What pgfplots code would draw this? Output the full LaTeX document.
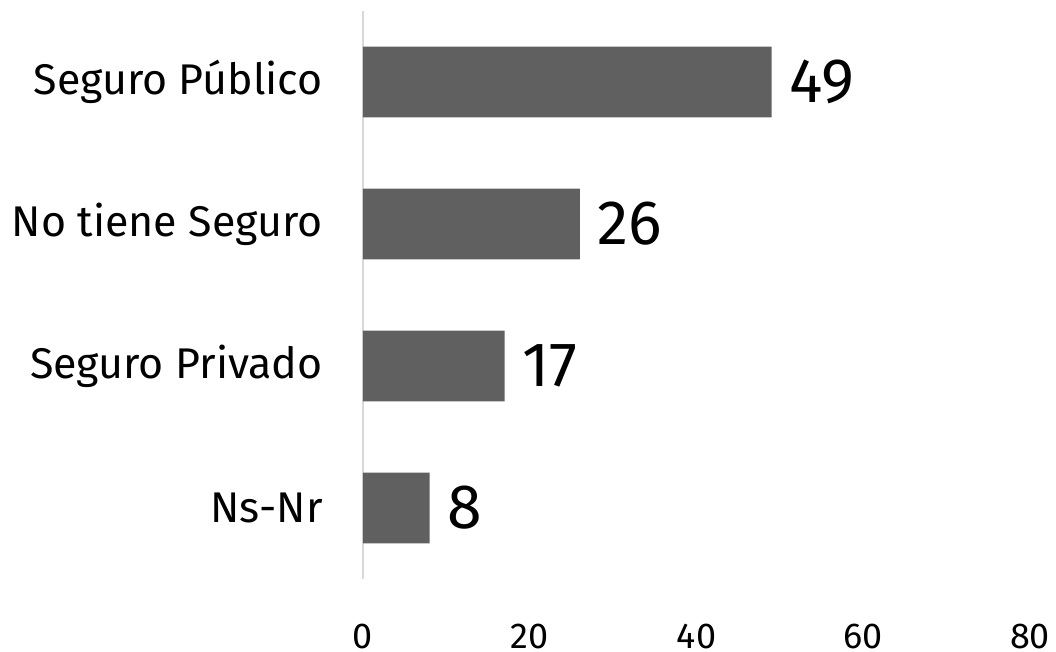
\documentclass[border=0pt]{standalone}
\usepackage{fontspec}
\setmainfont{Fira Sans}
\usepackage{pgfplots}
\pgfplotsset{compat=1.18}
\definecolor{barcol}{RGB}{96,96,96}
\definecolor{axcol}{RGB}{217,217,217}

\begin{document}
\begin{tikzpicture}
\begin{axis}[
    at={(0,0)}, anchor=south west,
    scale only axis,
    width=500.25pt, height=426pt,
    xbar, bar width=53pt,
    xmin=0, xmax=80, ymin=-0.5, ymax=3.5,
    xtick={0,20,40,60,80},
    ytick={0,1,2,3},
    yticklabels={Ns-Nr, Seguro Privado, No tiene Seguro, Seguro Público},
    axis x line*=bottom, axis y line*=left,
    x axis line style={draw=none},
    y axis line style={draw=axcol, line width=1.5pt},
    major tick length=0pt,
    /pgf/number format/assume math mode=true,
    xticklabel style={font=\fontsize{27}{30}\selectfont, inner sep=0pt, anchor=base, yshift=-52pt},
    yticklabel style={font=\fontsize{32.2}{36}\selectfont, inner sep=0pt, anchor=east, xshift=-30pt},
    nodes near coords,
    nodes near coords style={font=\fontsize{47}{50}\selectfont, inner sep=0pt, anchor=west, xshift=13pt},
]
\addplot[fill=barcol, draw=none] coordinates {(8,0) (17,1) (26,2) (49,3)};
\end{axis}
\useasboundingbox (-272.25pt,-54pt) rectangle (519.75pt,434.25pt);
\end{tikzpicture}
\end{document}
